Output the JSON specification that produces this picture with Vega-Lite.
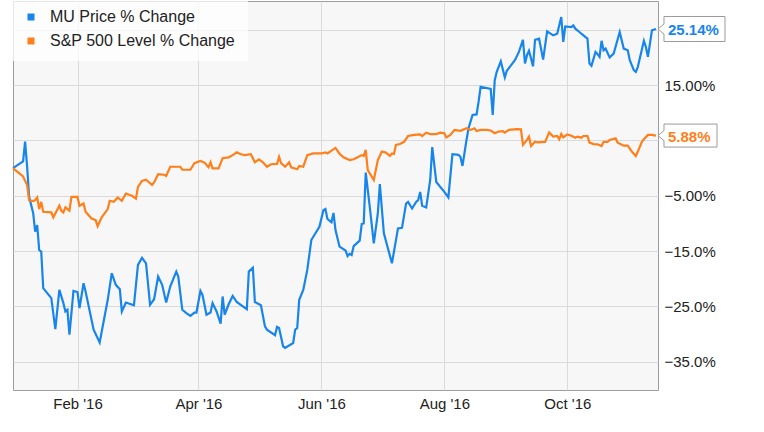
{
  "$schema": "https://vega.github.io/schema/vega-lite/v6.json",
  "width": 645,
  "height": 389,
  "autosize": {"type": "none"},
  "padding": {"left": 13, "top": 1, "right": 106, "bottom": 42},
  "background": "white",
  "config": {
    "view": {"fill": "#f7f7f7", "stroke": "#9c9c9c", "strokeWidth": 1},
    "font": "Liberation Sans"
  },
  "datasets": {
    "prices": [
      {"series": "MU Price % Change", "date": "2015-12-31", "value": 0},
      {"series": "MU Price % Change", "date": "2016-01-05", "value": 1.2},
      {"series": "MU Price % Change", "date": "2016-01-06", "value": 4.8},
      {"series": "MU Price % Change", "date": "2016-01-07", "value": 0.3},
      {"series": "MU Price % Change", "date": "2016-01-08", "value": -5.2},
      {"series": "MU Price % Change", "date": "2016-01-10", "value": -8.1},
      {"series": "MU Price % Change", "date": "2016-01-11", "value": -11.5},
      {"series": "MU Price % Change", "date": "2016-01-12", "value": -10.3},
      {"series": "MU Price % Change", "date": "2016-01-13", "value": -14.8},
      {"series": "MU Price % Change", "date": "2016-01-14", "value": -15.1},
      {"series": "MU Price % Change", "date": "2016-01-15", "value": -21.7},
      {"series": "MU Price % Change", "date": "2016-01-19", "value": -23.5},
      {"series": "MU Price % Change", "date": "2016-01-21", "value": -29.1},
      {"series": "MU Price % Change", "date": "2016-01-23", "value": -22},
      {"series": "MU Price % Change", "date": "2016-01-25", "value": -24.4},
      {"series": "MU Price % Change", "date": "2016-01-26", "value": -25.9},
      {"series": "MU Price % Change", "date": "2016-01-27", "value": -25.6},
      {"series": "MU Price % Change", "date": "2016-01-28", "value": -30.1},
      {"series": "MU Price % Change", "date": "2016-01-30", "value": -22.2},
      {"series": "MU Price % Change", "date": "2016-02-01", "value": -22.4},
      {"series": "MU Price % Change", "date": "2016-02-02", "value": -25.3},
      {"series": "MU Price % Change", "date": "2016-02-04", "value": -20.8},
      {"series": "MU Price % Change", "date": "2016-02-05", "value": -22.3},
      {"series": "MU Price % Change", "date": "2016-02-09", "value": -29.2},
      {"series": "MU Price % Change", "date": "2016-02-12", "value": -31.5},
      {"series": "MU Price % Change", "date": "2016-02-16", "value": -23.8},
      {"series": "MU Price % Change", "date": "2016-02-18", "value": -19},
      {"series": "MU Price % Change", "date": "2016-02-20", "value": -21.1},
      {"series": "MU Price % Change", "date": "2016-02-22", "value": -21.9},
      {"series": "MU Price % Change", "date": "2016-02-23", "value": -25.9},
      {"series": "MU Price % Change", "date": "2016-02-25", "value": -24.3},
      {"series": "MU Price % Change", "date": "2016-02-29", "value": -24.8},
      {"series": "MU Price % Change", "date": "2016-03-02", "value": -17.5},
      {"series": "MU Price % Change", "date": "2016-03-04", "value": -16.2},
      {"series": "MU Price % Change", "date": "2016-03-06", "value": -17.2},
      {"series": "MU Price % Change", "date": "2016-03-08", "value": -24.7},
      {"series": "MU Price % Change", "date": "2016-03-10", "value": -23.7},
      {"series": "MU Price % Change", "date": "2016-03-12", "value": -19.6},
      {"series": "MU Price % Change", "date": "2016-03-14", "value": -21.1},
      {"series": "MU Price % Change", "date": "2016-03-16", "value": -24.3},
      {"series": "MU Price % Change", "date": "2016-03-18", "value": -21.4},
      {"series": "MU Price % Change", "date": "2016-03-21", "value": -18.7},
      {"series": "MU Price % Change", "date": "2016-03-22", "value": -19.6},
      {"series": "MU Price % Change", "date": "2016-03-24", "value": -25.6},
      {"series": "MU Price % Change", "date": "2016-03-26", "value": -26.2},
      {"series": "MU Price % Change", "date": "2016-03-28", "value": -26.7},
      {"series": "MU Price % Change", "date": "2016-03-30", "value": -26.1},
      {"series": "MU Price % Change", "date": "2016-03-31", "value": -26.1},
      {"series": "MU Price % Change", "date": "2016-04-02", "value": -22.2},
      {"series": "MU Price % Change", "date": "2016-04-03", "value": -22.9},
      {"series": "MU Price % Change", "date": "2016-04-05", "value": -26.5},
      {"series": "MU Price % Change", "date": "2016-04-07", "value": -26.1},
      {"series": "MU Price % Change", "date": "2016-04-08", "value": -24.4},
      {"series": "MU Price % Change", "date": "2016-04-10", "value": -25.9},
      {"series": "MU Price % Change", "date": "2016-04-12", "value": -28.1},
      {"series": "MU Price % Change", "date": "2016-04-13", "value": -23.2},
      {"series": "MU Price % Change", "date": "2016-04-14", "value": -26.5},
      {"series": "MU Price % Change", "date": "2016-04-16", "value": -24.6},
      {"series": "MU Price % Change", "date": "2016-04-18", "value": -23.1},
      {"series": "MU Price % Change", "date": "2016-04-20", "value": -24.2},
      {"series": "MU Price % Change", "date": "2016-04-22", "value": -24.7},
      {"series": "MU Price % Change", "date": "2016-04-25", "value": -25.5},
      {"series": "MU Price % Change", "date": "2016-04-26", "value": -18.7},
      {"series": "MU Price % Change", "date": "2016-04-28", "value": -18},
      {"series": "MU Price % Change", "date": "2016-04-29", "value": -24.2},
      {"series": "MU Price % Change", "date": "2016-05-02", "value": -24.8},
      {"series": "MU Price % Change", "date": "2016-05-04", "value": -28.6},
      {"series": "MU Price % Change", "date": "2016-05-05", "value": -29.2},
      {"series": "MU Price % Change", "date": "2016-05-09", "value": -30.2},
      {"series": "MU Price % Change", "date": "2016-05-10", "value": -28.7},
      {"series": "MU Price % Change", "date": "2016-05-11", "value": -28.9},
      {"series": "MU Price % Change", "date": "2016-05-13", "value": -32.2},
      {"series": "MU Price % Change", "date": "2016-05-14", "value": -32.5},
      {"series": "MU Price % Change", "date": "2016-05-18", "value": -31.6},
      {"series": "MU Price % Change", "date": "2016-05-19", "value": -29.2},
      {"series": "MU Price % Change", "date": "2016-05-20", "value": -28.9},
      {"series": "MU Price % Change", "date": "2016-05-21", "value": -23.8},
      {"series": "MU Price % Change", "date": "2016-05-23", "value": -22},
      {"series": "MU Price % Change", "date": "2016-05-25", "value": -18.4},
      {"series": "MU Price % Change", "date": "2016-05-27", "value": -13},
      {"series": "MU Price % Change", "date": "2016-05-31", "value": -10.6},
      {"series": "MU Price % Change", "date": "2016-06-02", "value": -7.6},
      {"series": "MU Price % Change", "date": "2016-06-03", "value": -7.4},
      {"series": "MU Price % Change", "date": "2016-06-04", "value": -9.2},
      {"series": "MU Price % Change", "date": "2016-06-06", "value": -9.8},
      {"series": "MU Price % Change", "date": "2016-06-07", "value": -8.1},
      {"series": "MU Price % Change", "date": "2016-06-08", "value": -11.2},
      {"series": "MU Price % Change", "date": "2016-06-10", "value": -14.2},
      {"series": "MU Price % Change", "date": "2016-06-13", "value": -14.9},
      {"series": "MU Price % Change", "date": "2016-06-14", "value": -15.9},
      {"series": "MU Price % Change", "date": "2016-06-15", "value": -15.5},
      {"series": "MU Price % Change", "date": "2016-06-16", "value": -15.7},
      {"series": "MU Price % Change", "date": "2016-06-17", "value": -14.1},
      {"series": "MU Price % Change", "date": "2016-06-20", "value": -13.1},
      {"series": "MU Price % Change", "date": "2016-06-21", "value": -10.1},
      {"series": "MU Price % Change", "date": "2016-06-22", "value": -10},
      {"series": "MU Price % Change", "date": "2016-06-23", "value": -0.8},
      {"series": "MU Price % Change", "date": "2016-06-25", "value": -7},
      {"series": "MU Price % Change", "date": "2016-06-27", "value": -13.6},
      {"series": "MU Price % Change", "date": "2016-06-29", "value": -8.2},
      {"series": "MU Price % Change", "date": "2016-06-30", "value": -2.9},
      {"series": "MU Price % Change", "date": "2016-07-02", "value": -11.8},
      {"series": "MU Price % Change", "date": "2016-07-06", "value": -17.2},
      {"series": "MU Price % Change", "date": "2016-07-09", "value": -10.9},
      {"series": "MU Price % Change", "date": "2016-07-11", "value": -10.8},
      {"series": "MU Price % Change", "date": "2016-07-13", "value": -6.4},
      {"series": "MU Price % Change", "date": "2016-07-14", "value": -6.1},
      {"series": "MU Price % Change", "date": "2016-07-16", "value": -7.3},
      {"series": "MU Price % Change", "date": "2016-07-18", "value": -6.1},
      {"series": "MU Price % Change", "date": "2016-07-19", "value": -5.8},
      {"series": "MU Price % Change", "date": "2016-07-20", "value": -4.3},
      {"series": "MU Price % Change", "date": "2016-07-21", "value": -6.8},
      {"series": "MU Price % Change", "date": "2016-07-23", "value": -7.1},
      {"series": "MU Price % Change", "date": "2016-07-25", "value": -2.1},
      {"series": "MU Price % Change", "date": "2016-07-26", "value": 3.8},
      {"series": "MU Price % Change", "date": "2016-07-28", "value": -2.5},
      {"series": "MU Price % Change", "date": "2016-08-01", "value": -4.3},
      {"series": "MU Price % Change", "date": "2016-08-03", "value": -5.3},
      {"series": "MU Price % Change", "date": "2016-08-05", "value": 2.5},
      {"series": "MU Price % Change", "date": "2016-08-08", "value": 2.4},
      {"series": "MU Price % Change", "date": "2016-08-09", "value": 2},
      {"series": "MU Price % Change", "date": "2016-08-10", "value": 0.4},
      {"series": "MU Price % Change", "date": "2016-08-12", "value": 5.1},
      {"series": "MU Price % Change", "date": "2016-08-13", "value": 7.2},
      {"series": "MU Price % Change", "date": "2016-08-15", "value": 9.6},
      {"series": "MU Price % Change", "date": "2016-08-17", "value": 9.7},
      {"series": "MU Price % Change", "date": "2016-08-18", "value": 12},
      {"series": "MU Price % Change", "date": "2016-08-19", "value": 14.7},
      {"series": "MU Price % Change", "date": "2016-08-24", "value": 14.3},
      {"series": "MU Price % Change", "date": "2016-08-25", "value": 9.6},
      {"series": "MU Price % Change", "date": "2016-08-26", "value": 15.9},
      {"series": "MU Price % Change", "date": "2016-08-27", "value": 17.4},
      {"series": "MU Price % Change", "date": "2016-08-29", "value": 19.3},
      {"series": "MU Price % Change", "date": "2016-08-31", "value": 16.4},
      {"series": "MU Price % Change", "date": "2016-09-01", "value": 17.6},
      {"series": "MU Price % Change", "date": "2016-09-05", "value": 19.5},
      {"series": "MU Price % Change", "date": "2016-09-07", "value": 21},
      {"series": "MU Price % Change", "date": "2016-09-09", "value": 23.2},
      {"series": "MU Price % Change", "date": "2016-09-10", "value": 18.9},
      {"series": "MU Price % Change", "date": "2016-09-11", "value": 20.4},
      {"series": "MU Price % Change", "date": "2016-09-12", "value": 21.2},
      {"series": "MU Price % Change", "date": "2016-09-14", "value": 18.4},
      {"series": "MU Price % Change", "date": "2016-09-15", "value": 23.2},
      {"series": "MU Price % Change", "date": "2016-09-17", "value": 23.4},
      {"series": "MU Price % Change", "date": "2016-09-19", "value": 19.6},
      {"series": "MU Price % Change", "date": "2016-09-21", "value": 24.7},
      {"series": "MU Price % Change", "date": "2016-09-24", "value": 24},
      {"series": "MU Price % Change", "date": "2016-09-26", "value": 24.3},
      {"series": "MU Price % Change", "date": "2016-09-28", "value": 27.3},
      {"series": "MU Price % Change", "date": "2016-09-29", "value": 22.8},
      {"series": "MU Price % Change", "date": "2016-09-30", "value": 25.6},
      {"series": "MU Price % Change", "date": "2016-10-03", "value": 25.5},
      {"series": "MU Price % Change", "date": "2016-10-04", "value": 25.8},
      {"series": "MU Price % Change", "date": "2016-10-05", "value": 25.2},
      {"series": "MU Price % Change", "date": "2016-10-07", "value": 24.6},
      {"series": "MU Price % Change", "date": "2016-10-09", "value": 24},
      {"series": "MU Price % Change", "date": "2016-10-11", "value": 23.4},
      {"series": "MU Price % Change", "date": "2016-10-12", "value": 18.9},
      {"series": "MU Price % Change", "date": "2016-10-13", "value": 18.5},
      {"series": "MU Price % Change", "date": "2016-10-15", "value": 21},
      {"series": "MU Price % Change", "date": "2016-10-16", "value": 20.6},
      {"series": "MU Price % Change", "date": "2016-10-17", "value": 20.1},
      {"series": "MU Price % Change", "date": "2016-10-18", "value": 23},
      {"series": "MU Price % Change", "date": "2016-10-19", "value": 21.3},
      {"series": "MU Price % Change", "date": "2016-10-20", "value": 21.6},
      {"series": "MU Price % Change", "date": "2016-10-22", "value": 20},
      {"series": "MU Price % Change", "date": "2016-10-24", "value": 20.7},
      {"series": "MU Price % Change", "date": "2016-10-27", "value": 24.6},
      {"series": "MU Price % Change", "date": "2016-10-29", "value": 21.6},
      {"series": "MU Price % Change", "date": "2016-10-31", "value": 21.3},
      {"series": "MU Price % Change", "date": "2016-11-01", "value": 19.5},
      {"series": "MU Price % Change", "date": "2016-11-03", "value": 17.7},
      {"series": "MU Price % Change", "date": "2016-11-04", "value": 17.4},
      {"series": "MU Price % Change", "date": "2016-11-05", "value": 18.3},
      {"series": "MU Price % Change", "date": "2016-11-08", "value": 23},
      {"series": "MU Price % Change", "date": "2016-11-09", "value": 21.9},
      {"series": "MU Price % Change", "date": "2016-11-10", "value": 20.1},
      {"series": "MU Price % Change", "date": "2016-11-12", "value": 24.9},
      {"series": "MU Price % Change", "date": "2016-11-14", "value": 25.14},
      {"series": "S&P 500 Level % Change", "date": "2015-12-31", "value": 0},
      {"series": "S&P 500 Level % Change", "date": "2016-01-03", "value": -0.9},
      {"series": "S&P 500 Level % Change", "date": "2016-01-05", "value": -1.5},
      {"series": "S&P 500 Level % Change", "date": "2016-01-07", "value": -3.05},
      {"series": "S&P 500 Level % Change", "date": "2016-01-08", "value": -5.8},
      {"series": "S&P 500 Level % Change", "date": "2016-01-10", "value": -5.95},
      {"series": "S&P 500 Level % Change", "date": "2016-01-11", "value": -5.8},
      {"series": "S&P 500 Level % Change", "date": "2016-01-12", "value": -5.3},
      {"series": "S&P 500 Level % Change", "date": "2016-01-13", "value": -7.4},
      {"series": "S&P 500 Level % Change", "date": "2016-01-14", "value": -6.1},
      {"series": "S&P 500 Level % Change", "date": "2016-01-15", "value": -7.9},
      {"series": "S&P 500 Level % Change", "date": "2016-01-19", "value": -8.0},
      {"series": "S&P 500 Level % Change", "date": "2016-01-20", "value": -8.9},
      {"series": "S&P 500 Level % Change", "date": "2016-01-23", "value": -6.8},
      {"series": "S&P 500 Level % Change", "date": "2016-01-24", "value": -7.7},
      {"series": "S&P 500 Level % Change", "date": "2016-01-25", "value": -8.0},
      {"series": "S&P 500 Level % Change", "date": "2016-01-26", "value": -7.1},
      {"series": "S&P 500 Level % Change", "date": "2016-01-28", "value": -7.7},
      {"series": "S&P 500 Level % Change", "date": "2016-01-29", "value": -5.2},
      {"series": "S&P 500 Level % Change", "date": "2016-02-01", "value": -5.2},
      {"series": "S&P 500 Level % Change", "date": "2016-02-02", "value": -6.8},
      {"series": "S&P 500 Level % Change", "date": "2016-02-04", "value": -6.4},
      {"series": "S&P 500 Level % Change", "date": "2016-02-05", "value": -7.9},
      {"series": "S&P 500 Level % Change", "date": "2016-02-08", "value": -9.1},
      {"series": "S&P 500 Level % Change", "date": "2016-02-10", "value": -9.4},
      {"series": "S&P 500 Level % Change", "date": "2016-02-11", "value": -10.5},
      {"series": "S&P 500 Level % Change", "date": "2016-02-13", "value": -8.9},
      {"series": "S&P 500 Level % Change", "date": "2016-02-16", "value": -7.4},
      {"series": "S&P 500 Level % Change", "date": "2016-02-17", "value": -5.9},
      {"series": "S&P 500 Level % Change", "date": "2016-02-19", "value": -6.1},
      {"series": "S&P 500 Level % Change", "date": "2016-02-21", "value": -5.3},
      {"series": "S&P 500 Level % Change", "date": "2016-02-23", "value": -5.9},
      {"series": "S&P 500 Level % Change", "date": "2016-02-25", "value": -4.6},
      {"series": "S&P 500 Level % Change", "date": "2016-02-28", "value": -5.0},
      {"series": "S&P 500 Level % Change", "date": "2016-03-01", "value": -5.5},
      {"series": "S&P 500 Level % Change", "date": "2016-03-02", "value": -3.4},
      {"series": "S&P 500 Level % Change", "date": "2016-03-04", "value": -2.3},
      {"series": "S&P 500 Level % Change", "date": "2016-03-06", "value": -2.1},
      {"series": "S&P 500 Level % Change", "date": "2016-03-09", "value": -3.05},
      {"series": "S&P 500 Level % Change", "date": "2016-03-10", "value": -2.6},
      {"series": "S&P 500 Level % Change", "date": "2016-03-12", "value": -1.1},
      {"series": "S&P 500 Level % Change", "date": "2016-03-15", "value": -1.2},
      {"series": "S&P 500 Level % Change", "date": "2016-03-16", "value": -1.4},
      {"series": "S&P 500 Level % Change", "date": "2016-03-18", "value": 0.25},
      {"series": "S&P 500 Level % Change", "date": "2016-03-23", "value": 0.25},
      {"series": "S&P 500 Level % Change", "date": "2016-03-24", "value": -0.3},
      {"series": "S&P 500 Level % Change", "date": "2016-03-28", "value": -0.3},
      {"series": "S&P 500 Level % Change", "date": "2016-03-30", "value": 0.9},
      {"series": "S&P 500 Level % Change", "date": "2016-04-02", "value": 1.3},
      {"series": "S&P 500 Level % Change", "date": "2016-04-04", "value": 1.0},
      {"series": "S&P 500 Level % Change", "date": "2016-04-06", "value": 0.15},
      {"series": "S&P 500 Level % Change", "date": "2016-04-07", "value": 1.05},
      {"series": "S&P 500 Level % Change", "date": "2016-04-08", "value": -0.05},
      {"series": "S&P 500 Level % Change", "date": "2016-04-11", "value": -0.05},
      {"series": "S&P 500 Level % Change", "date": "2016-04-13", "value": 1.8},
      {"series": "S&P 500 Level % Change", "date": "2016-04-16", "value": 1.95},
      {"series": "S&P 500 Level % Change", "date": "2016-04-18", "value": 2.35},
      {"series": "S&P 500 Level % Change", "date": "2016-04-20", "value": 2.85},
      {"series": "S&P 500 Level % Change", "date": "2016-04-22", "value": 2.5},
      {"series": "S&P 500 Level % Change", "date": "2016-04-24", "value": 2.35},
      {"series": "S&P 500 Level % Change", "date": "2016-04-27", "value": 2.5},
      {"series": "S&P 500 Level % Change", "date": "2016-04-29", "value": 1.05},
      {"series": "S&P 500 Level % Change", "date": "2016-05-01", "value": 1.6},
      {"series": "S&P 500 Level % Change", "date": "2016-05-03", "value": 1.05},
      {"series": "S&P 500 Level % Change", "date": "2016-05-05", "value": 0.25},
      {"series": "S&P 500 Level % Change", "date": "2016-05-07", "value": 0.7},
      {"series": "S&P 500 Level % Change", "date": "2016-05-10", "value": 0.75},
      {"series": "S&P 500 Level % Change", "date": "2016-05-11", "value": 2.05},
      {"series": "S&P 500 Level % Change", "date": "2016-05-12", "value": 0.9},
      {"series": "S&P 500 Level % Change", "date": "2016-05-14", "value": 0.25},
      {"series": "S&P 500 Level % Change", "date": "2016-05-16", "value": 1.05},
      {"series": "S&P 500 Level % Change", "date": "2016-05-17", "value": 0.15},
      {"series": "S&P 500 Level % Change", "date": "2016-05-20", "value": -0.2},
      {"series": "S&P 500 Level % Change", "date": "2016-05-21", "value": 0.4},
      {"series": "S&P 500 Level % Change", "date": "2016-05-23", "value": 0.25},
      {"series": "S&P 500 Level % Change", "date": "2016-05-25", "value": 2.35},
      {"series": "S&P 500 Level % Change", "date": "2016-05-28", "value": 2.65},
      {"series": "S&P 500 Level % Change", "date": "2016-06-01", "value": 2.65},
      {"series": "S&P 500 Level % Change", "date": "2016-06-03", "value": 2.85},
      {"series": "S&P 500 Level % Change", "date": "2016-06-04", "value": 2.65},
      {"series": "S&P 500 Level % Change", "date": "2016-06-08", "value": 3.65},
      {"series": "S&P 500 Level % Change", "date": "2016-06-10", "value": 2.6},
      {"series": "S&P 500 Level % Change", "date": "2016-06-12", "value": 1.95},
      {"series": "S&P 500 Level % Change", "date": "2016-06-15", "value": 1.45},
      {"series": "S&P 500 Level % Change", "date": "2016-06-17", "value": 1.6},
      {"series": "S&P 500 Level % Change", "date": "2016-06-19", "value": 1.95},
      {"series": "S&P 500 Level % Change", "date": "2016-06-21", "value": 2.35},
      {"series": "S&P 500 Level % Change", "date": "2016-06-22", "value": 2.2},
      {"series": "S&P 500 Level % Change", "date": "2016-06-23", "value": 3.3},
      {"series": "S&P 500 Level % Change", "date": "2016-06-24", "value": -0.35},
      {"series": "S&P 500 Level % Change", "date": "2016-06-27", "value": -2.15},
      {"series": "S&P 500 Level % Change", "date": "2016-06-29", "value": 1.45},
      {"series": "S&P 500 Level % Change", "date": "2016-07-01", "value": 3.0},
      {"series": "S&P 500 Level % Change", "date": "2016-07-03", "value": 2.8},
      {"series": "S&P 500 Level % Change", "date": "2016-07-05", "value": 2.2},
      {"series": "S&P 500 Level % Change", "date": "2016-07-06", "value": 2.65},
      {"series": "S&P 500 Level % Change", "date": "2016-07-07", "value": 2.55},
      {"series": "S&P 500 Level % Change", "date": "2016-07-08", "value": 4.2},
      {"series": "S&P 500 Level % Change", "date": "2016-07-10", "value": 4.35},
      {"series": "S&P 500 Level % Change", "date": "2016-07-12", "value": 4.75},
      {"series": "S&P 500 Level % Change", "date": "2016-07-14", "value": 5.8},
      {"series": "S&P 500 Level % Change", "date": "2016-07-17", "value": 6.0},
      {"series": "S&P 500 Level % Change", "date": "2016-07-20", "value": 6.1},
      {"series": "S&P 500 Level % Change", "date": "2016-07-21", "value": 5.8},
      {"series": "S&P 500 Level % Change", "date": "2016-07-23", "value": 6.4},
      {"series": "S&P 500 Level % Change", "date": "2016-07-25", "value": 6.15},
      {"series": "S&P 500 Level % Change", "date": "2016-07-28", "value": 6.15},
      {"series": "S&P 500 Level % Change", "date": "2016-07-30", "value": 6.4},
      {"series": "S&P 500 Level % Change", "date": "2016-08-01", "value": 6.3},
      {"series": "S&P 500 Level % Change", "date": "2016-08-02", "value": 5.55},
      {"series": "S&P 500 Level % Change", "date": "2016-08-04", "value": 6.0},
      {"series": "S&P 500 Level % Change", "date": "2016-08-06", "value": 6.9},
      {"series": "S&P 500 Level % Change", "date": "2016-08-09", "value": 6.75},
      {"series": "S&P 500 Level % Change", "date": "2016-08-12", "value": 7.2},
      {"series": "S&P 500 Level % Change", "date": "2016-08-14", "value": 6.9},
      {"series": "S&P 500 Level % Change", "date": "2016-08-16", "value": 7.2},
      {"series": "S&P 500 Level % Change", "date": "2016-08-17", "value": 6.7},
      {"series": "S&P 500 Level % Change", "date": "2016-08-19", "value": 6.9},
      {"series": "S&P 500 Level % Change", "date": "2016-08-22", "value": 6.9},
      {"series": "S&P 500 Level % Change", "date": "2016-08-24", "value": 6.8},
      {"series": "S&P 500 Level % Change", "date": "2016-08-26", "value": 6.3},
      {"series": "S&P 500 Level % Change", "date": "2016-08-28", "value": 6.6},
      {"series": "S&P 500 Level % Change", "date": "2016-08-30", "value": 6.7},
      {"series": "S&P 500 Level % Change", "date": "2016-08-31", "value": 6.4},
      {"series": "S&P 500 Level % Change", "date": "2016-09-02", "value": 6.9},
      {"series": "S&P 500 Level % Change", "date": "2016-09-06", "value": 7.05},
      {"series": "S&P 500 Level % Change", "date": "2016-09-08", "value": 7.0},
      {"series": "S&P 500 Level % Change", "date": "2016-09-09", "value": 4.2},
      {"series": "S&P 500 Level % Change", "date": "2016-09-11", "value": 5.1},
      {"series": "S&P 500 Level % Change", "date": "2016-09-12", "value": 5.7},
      {"series": "S&P 500 Level % Change", "date": "2016-09-13", "value": 4.0},
      {"series": "S&P 500 Level % Change", "date": "2016-09-15", "value": 4.75},
      {"series": "S&P 500 Level % Change", "date": "2016-09-16", "value": 4.65},
      {"series": "S&P 500 Level % Change", "date": "2016-09-20", "value": 4.75},
      {"series": "S&P 500 Level % Change", "date": "2016-09-22", "value": 6.45},
      {"series": "S&P 500 Level % Change", "date": "2016-09-24", "value": 5.7},
      {"series": "S&P 500 Level % Change", "date": "2016-09-26", "value": 5.8},
      {"series": "S&P 500 Level % Change", "date": "2016-09-27", "value": 5.2},
      {"series": "S&P 500 Level % Change", "date": "2016-09-28", "value": 6.15},
      {"series": "S&P 500 Level % Change", "date": "2016-09-29", "value": 5.55},
      {"series": "S&P 500 Level % Change", "date": "2016-10-01", "value": 6.1},
      {"series": "S&P 500 Level % Change", "date": "2016-10-03", "value": 5.85},
      {"series": "S&P 500 Level % Change", "date": "2016-10-05", "value": 5.5},
      {"series": "S&P 500 Level % Change", "date": "2016-10-06", "value": 5.7},
      {"series": "S&P 500 Level % Change", "date": "2016-10-08", "value": 5.5},
      {"series": "S&P 500 Level % Change", "date": "2016-10-09", "value": 5.8},
      {"series": "S&P 500 Level % Change", "date": "2016-10-11", "value": 5.8},
      {"series": "S&P 500 Level % Change", "date": "2016-10-12", "value": 4.6},
      {"series": "S&P 500 Level % Change", "date": "2016-10-14", "value": 4.35},
      {"series": "S&P 500 Level % Change", "date": "2016-10-16", "value": 4.3},
      {"series": "S&P 500 Level % Change", "date": "2016-10-18", "value": 4.0},
      {"series": "S&P 500 Level % Change", "date": "2016-10-19", "value": 4.75},
      {"series": "S&P 500 Level % Change", "date": "2016-10-21", "value": 4.75},
      {"series": "S&P 500 Level % Change", "date": "2016-10-22", "value": 5.1},
      {"series": "S&P 500 Level % Change", "date": "2016-10-25", "value": 5.4},
      {"series": "S&P 500 Level % Change", "date": "2016-10-26", "value": 4.6},
      {"series": "S&P 500 Level % Change", "date": "2016-10-29", "value": 4.05},
      {"series": "S&P 500 Level % Change", "date": "2016-10-31", "value": 4.05},
      {"series": "S&P 500 Level % Change", "date": "2016-11-02", "value": 3.0},
      {"series": "S&P 500 Level % Change", "date": "2016-11-04", "value": 2.2},
      {"series": "S&P 500 Level % Change", "date": "2016-11-05", "value": 3.0},
      {"series": "S&P 500 Level % Change", "date": "2016-11-07", "value": 4.75},
      {"series": "S&P 500 Level % Change", "date": "2016-11-08", "value": 5.2},
      {"series": "S&P 500 Level % Change", "date": "2016-11-10", "value": 6.0},
      {"series": "S&P 500 Level % Change", "date": "2016-11-12", "value": 6.0},
      {"series": "S&P 500 Level % Change", "date": "2016-11-14", "value": 5.88}
    ],
    "ends": [
      {"series": "MU Price % Change", "date": "2016-11-14", "value": 25.14, "label": "25.14%"},
      {"series": "S&P 500 Level % Change", "date": "2016-11-14", "value": 5.88, "label": "5.88%"}
    ]
  },
  "encoding": {
    "x": {
      "field": "date",
      "type": "temporal",
      "scale": {
        "type": "utc",
        "domain": [
          {"year": 2015, "month": 12, "date": 31, "utc": true},
          {"year": 2016, "month": 11, "date": 15, "utc": true}
        ]
      },
      "axis": {
        "values": [
          {"year": 2016, "month": 2, "date": 1, "utc": true},
          {"year": 2016, "month": 4, "date": 1, "utc": true},
          {"year": 2016, "month": 6, "date": 1, "utc": true},
          {"year": 2016, "month": 8, "date": 1, "utc": true},
          {"year": 2016, "month": 10, "date": 1, "utc": true}
        ],
        "format": "%b '%y",
        "title": null,
        "grid": true,
        "gridColor": "#dadada",
        "gridWidth": 1,
        "domain": false,
        "ticks": false,
        "labelPadding": 6,
        "labelFont": "Liberation Sans",
        "labelFontSize": 15,
        "labelColor": "#222222",
        "labelFlush": false
      }
    },
    "y": {
      "field": "value",
      "type": "quantitative",
      "scale": {"domain": [-40.1, 30.2], "nice": false, "zero": false},
      "axis": {
        "orient": "right",
        "values": [25, 15, 5, -5, -15, -25, -35],
        "labelExpr": "datum.value == 25 || datum.value == 5 ? '' : (datum.value >= -5 ? format(datum.value, '.2f') : format(datum.value, '.1f')) + '%'",
        "title": null,
        "grid": true,
        "gridColor": "#dadada",
        "gridWidth": 1,
        "domain": false,
        "ticks": false,
        "labelPadding": 6,
        "labelFont": "Liberation Sans",
        "labelFontSize": 15,
        "labelColor": "#222222"
      }
    }
  },
  "layer": [
    {
      "data": {"name": "prices"},
      "mark": {"type": "line", "strokeWidth": 2.2, "interpolate": "linear"},
      "encoding": {
        "color": {
          "field": "series",
          "type": "nominal",
          "scale": {
            "domain": ["MU Price % Change", "S&P 500 Level % Change"],
            "range": ["#1785ea", "#ff7f1a"]
          },
          "legend": {
            "orient": "none",
            "legendX": -2,
            "legendY": -4,
            "title": null,
            "padding": 12,
            "fillColor": "rgba(255,255,255,0.75)",
            "labelFont": "Liberation Sans",
            "labelFontSize": 16,
            "labelColor": "#222222",
            "labelLimit": 400,
            "labelOffset": 11,
            "rowPadding": 8,
            "symbolType": "square",
            "symbolSize": 49,
            "symbolStrokeWidth": 0,
            "encode": {
              "symbols": {
                "update": {
                  "fill": {"scale": "color", "field": "value"},
                  "stroke": {"value": "transparent"}
                }
              }
            }
          }
        }
      }
    },
    {
      "data": {"name": "ends"},
      "transform": [{"filter": "datum.series == 'MU Price % Change'"}],
      "mark": {"type": "point", "filled": true, "fill": "white", "stroke": "#9a9a9a", "strokeWidth": 1, "opacity": 1, "size": 4,
        "shape": "M2,0 L8,-5 L8,-12.5 L69,-12.5 L69,12.5 L8,12.5 L8,5 Z"}
    },
    {
      "data": {"name": "ends"},
      "transform": [{"filter": "datum.series == 'S&P 500 Level % Change'"}],
      "mark": {"type": "point", "filled": true, "fill": "white", "stroke": "#9a9a9a", "strokeWidth": 1, "opacity": 1, "size": 4,
        "shape": "M2,0 L8,-5 L8,-11.5 L61,-11.5 L61,11.5 L8,11.5 L8,5 Z"}
    },
    {
      "data": {"name": "ends"},
      "transform": [{"filter": "datum.series == 'MU Price % Change'"}],
      "mark": {"type": "text", "align": "left", "baseline": "middle", "dx": 12, "dy": 1, "font": "Liberation Sans", "fontSize": 15, "fontWeight": "bold", "color": "#1785ea"},
      "encoding": {"text": {"field": "label", "type": "nominal"}}
    },
    {
      "data": {"name": "ends"},
      "transform": [{"filter": "datum.series == 'S&P 500 Level % Change'"}],
      "mark": {"type": "text", "align": "left", "baseline": "middle", "dx": 12, "dy": 1, "font": "Liberation Sans", "fontSize": 15, "fontWeight": "bold", "color": "#ff7f1a"},
      "encoding": {"text": {"field": "label", "type": "nominal"}}
    }
  ]
}
